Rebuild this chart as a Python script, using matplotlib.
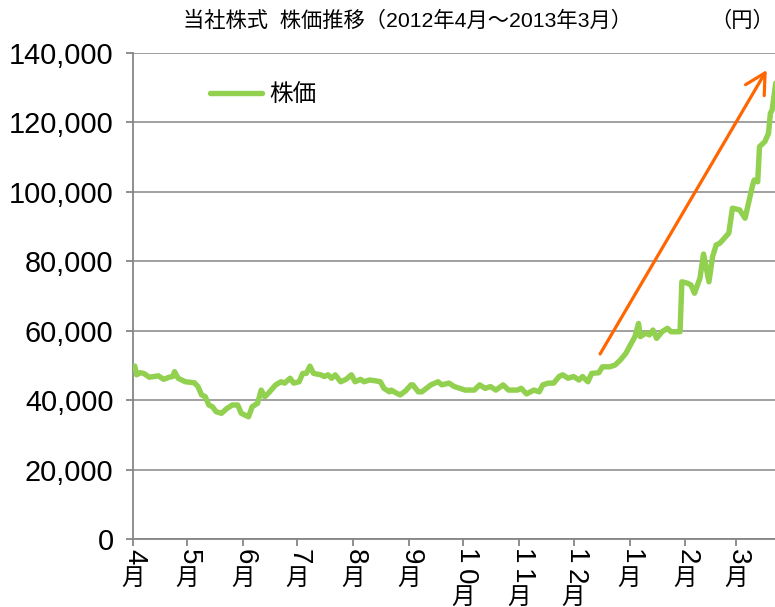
import matplotlib
matplotlib.use('Agg')
import matplotlib.pyplot as plt
import matplotlib.dates as mdates
import pandas as pd

plt.rcParams['font.family'] = ['Liberation Sans', 'Noto Sans CJK JP']

# ---- data ----
dates = [
    '2012-04-02', '2012-04-03', '2012-04-05', '2012-04-07', '2012-04-10', '2012-04-15',
    '2012-04-18', '2012-04-21', '2012-04-23', '2012-04-24', '2012-04-26', '2012-04-30',
    '2012-05-05', '2012-05-07', '2012-05-09', '2012-05-11', '2012-05-13', '2012-05-15',
    '2012-05-17', '2012-05-20', '2012-05-23', '2012-05-26', '2012-05-29', '2012-05-31',
    '2012-06-02', '2012-06-04', '2012-06-06', '2012-06-09', '2012-06-11', '2012-06-13',
    '2012-06-15', '2012-06-19', '2012-06-22', '2012-06-24', '2012-06-27', '2012-06-29',
    '2012-07-02', '2012-07-04', '2012-07-06', '2012-07-08', '2012-07-10', '2012-07-14',
    '2012-07-16', '2012-07-18', '2012-07-20', '2012-07-22', '2012-07-25', '2012-07-28',
    '2012-07-31', '2012-08-02', '2012-08-05', '2012-08-07', '2012-08-10', '2012-08-13',
    '2012-08-16', '2012-08-18', '2012-08-21', '2012-08-22', '2012-08-25', '2012-08-27',
    '2012-08-30', '2012-09-02', '2012-09-03', '2012-09-06', '2012-09-08', '2012-09-13',
    '2012-09-17', '2012-09-19', '2012-09-23', '2012-09-26', '2012-10-02', '2012-10-07',
    '2012-10-10', '2012-10-13', '2012-10-16', '2012-10-19', '2012-10-23', '2012-10-26',
    '2012-10-31', '2012-11-02', '2012-11-05', '2012-11-09', '2012-11-12', '2012-11-14',
    '2012-11-17', '2012-11-20', '2012-11-23', '2012-11-25', '2012-11-28', '2012-12-01',
    '2012-12-04', '2012-12-06', '2012-12-09', '2012-12-11', '2012-12-15', '2012-12-17',
    '2012-12-21', '2012-12-24', '2012-12-27', '2012-12-30', '2013-01-01', '2013-01-04',
    '2013-01-06', '2013-01-07', '2013-01-10', '2013-01-12', '2013-01-14', '2013-01-16',
    '2013-01-19', '2013-01-22', '2013-01-24', '2013-01-27', '2013-01-29', '2013-01-30',
    '2013-02-02', '2013-02-04', '2013-02-06', '2013-02-09', '2013-02-11', '2013-02-14',
    '2013-02-16', '2013-02-18', '2013-02-20', '2013-02-25', '2013-02-27', '2013-03-03',
    '2013-03-06', '2013-03-10', '2013-03-11', '2013-03-13', '2013-03-14', '2013-03-17',
    '2013-03-19', '2013-03-20', '2013-03-21', '2013-03-23',
]
prices = [
    49800, 47300, 47900, 47700, 46600, 47000,
    46000, 46600, 46800, 48200, 46300, 45300,
    45000, 43900, 41500, 41000, 38600, 38100,
    36700, 36200, 37600, 38600, 38600, 36200,
    35700, 35200, 38100, 39100, 42900, 41000,
    42000, 44400, 45300, 44900, 46300, 44900,
    45300, 47700, 47700, 49800, 47700, 47300,
    46800, 47300, 46300, 47300, 45300, 46000,
    47300, 45300, 46000, 45300, 45800, 45600,
    45300, 43400, 42400, 42900, 42000, 41500,
    42700, 44400, 44400, 42400, 42400, 44400,
    45300, 44400, 44900, 43900, 42900, 42900,
    44400, 43400, 43900, 42900, 44400, 42900,
    42900, 43400, 41800, 42900, 42400, 44400,
    44900, 44900, 46800, 47300, 46300, 46800,
    45800, 46800, 45300, 47700, 47900, 49600,
    49600, 50100, 51600, 53500, 55400, 58300,
    62100, 58300, 59300, 58800, 60200, 57800,
    59700, 60700, 59700, 59700, 59700, 74100,
    73700, 73200, 70800, 75100, 82100, 74100,
    81300, 84700, 85200, 88100, 95300, 94800,
    92400, 101500, 103400, 102900, 113000, 114500,
    116900, 122600, 123600, 131300,
]
month_starts = ['2012-04-01', '2012-05-01', '2012-06-01', '2012-07-01', '2012-08-01',
                '2012-09-01', '2012-10-01', '2012-11-01', '2012-12-01', '2013-01-01',
                '2013-02-01', '2013-03-01']
month_nums = ['4', '5', '6', '7', '8', '9', '10', '11', '12', '1', '2', '3']
month_char = '月'
y_ticks = [0, 20000, 40000, 60000, 80000, 100000, 120000, 140000]
title = '当社株式  株価推移（2012年4月～2013年3月）'
unit_label = '（円）'
series_name = '株価'
arrow_from = ('2012-12-15 17:00', 53300)
arrow_to = ('2013-03-18 00:00', 135100)
x_start, x_end = '2012-04-01', '2013-03-22 14:00'

GREEN = '#92D050'
ORANGE = '#FF6600'
GRID = '#868686'

fig = plt.figure(figsize=(7.75, 6.07), dpi=100)
ax = fig.add_axes([133 / 775, 68 / 607, 642 / 775, 486 / 607])

xd = pd.to_datetime(dates)
ax.plot(xd, prices, color=GREEN, lw=3.9, solid_joinstyle='round', solid_capstyle='round',
        label=series_name, zorder=3)

ax.set_xlim(pd.Timestamp(x_start), pd.Timestamp(x_end))
ax.set_ylim(0, 140000)
ax.set_yticks(y_ticks)
ax.set_yticklabels([f'{v:,}' for v in y_ticks])
ax.yaxis.grid(True, color=GRID, lw=1.1)
ax.set_axisbelow(True)

for s in ['top', 'right']:
    ax.spines[s].set_visible(False)
for s in ['left', 'bottom']:
    ax.spines[s].set_color(GRID)
    ax.spines[s].set_linewidth(1.3)

ms = pd.to_datetime(month_starts)
ax.set_xticks(ms)
ax.set_xticklabels([])
ax.tick_params(axis='x', direction='out', length=5, width=1.3, color=GRID)
ax.tick_params(axis='y', direction='out', length=5, width=1.3, color=GRID,
               labelsize=20.8, pad=9)

# vertical (tategaki-style) month labels: digits turned sideways, 月 upright
digit_cell = 14.0   # points per digit cell
kanji_cell = 17.0   # points for the 月 cell
top_gap = 6.0       # points below the axis line
for m, num in zip(ms, month_nums):
    xm = mdates.date2num(m)
    y = -top_gap
    for ch in num:
        ax.annotate(ch, xy=(xm, 0), xycoords=('data', 'axes fraction'),
                    xytext=(1, y - digit_cell / 2), textcoords='offset points',
                    rotation=270, ha='center', va='center', fontsize=20,
                    annotation_clip=False, rotation_mode='anchor')
        y -= digit_cell
    ax.annotate(month_char, xy=(xm, 0), xycoords=('data', 'axes fraction'),
                xytext=(0, y - kanji_cell / 2), textcoords='offset points',
                ha='center', va='center', fontsize=17, annotation_clip=False)

# arrow
ax.annotate('', xy=(mdates.date2num(pd.Timestamp(arrow_to[0])), arrow_to[1]),
            xytext=(mdates.date2num(pd.Timestamp(arrow_from[0])), arrow_from[1]),
            arrowprops=dict(arrowstyle='->,head_length=1.44,head_width=0.78',
                            mutation_scale=10, color=ORANGE, lw=2.3,
                            shrinkA=0, shrinkB=0), zorder=4)

leg = ax.legend(loc='center left', bbox_to_anchor=(0.12, 0.914), frameon=False,
                fontsize=17, handlelength=2.2, handletextpad=0.3, borderpad=0,
                borderaxespad=0)

fig.text(183 / 775, 1 - 21 / 607, title, fontsize=15.3, ha='left', va='center')
fig.text(710 / 775, 1 - 21 / 607, unit_label, fontsize=15.3, ha='left', va='center')

fig.savefig('out.png', dpi=100)
